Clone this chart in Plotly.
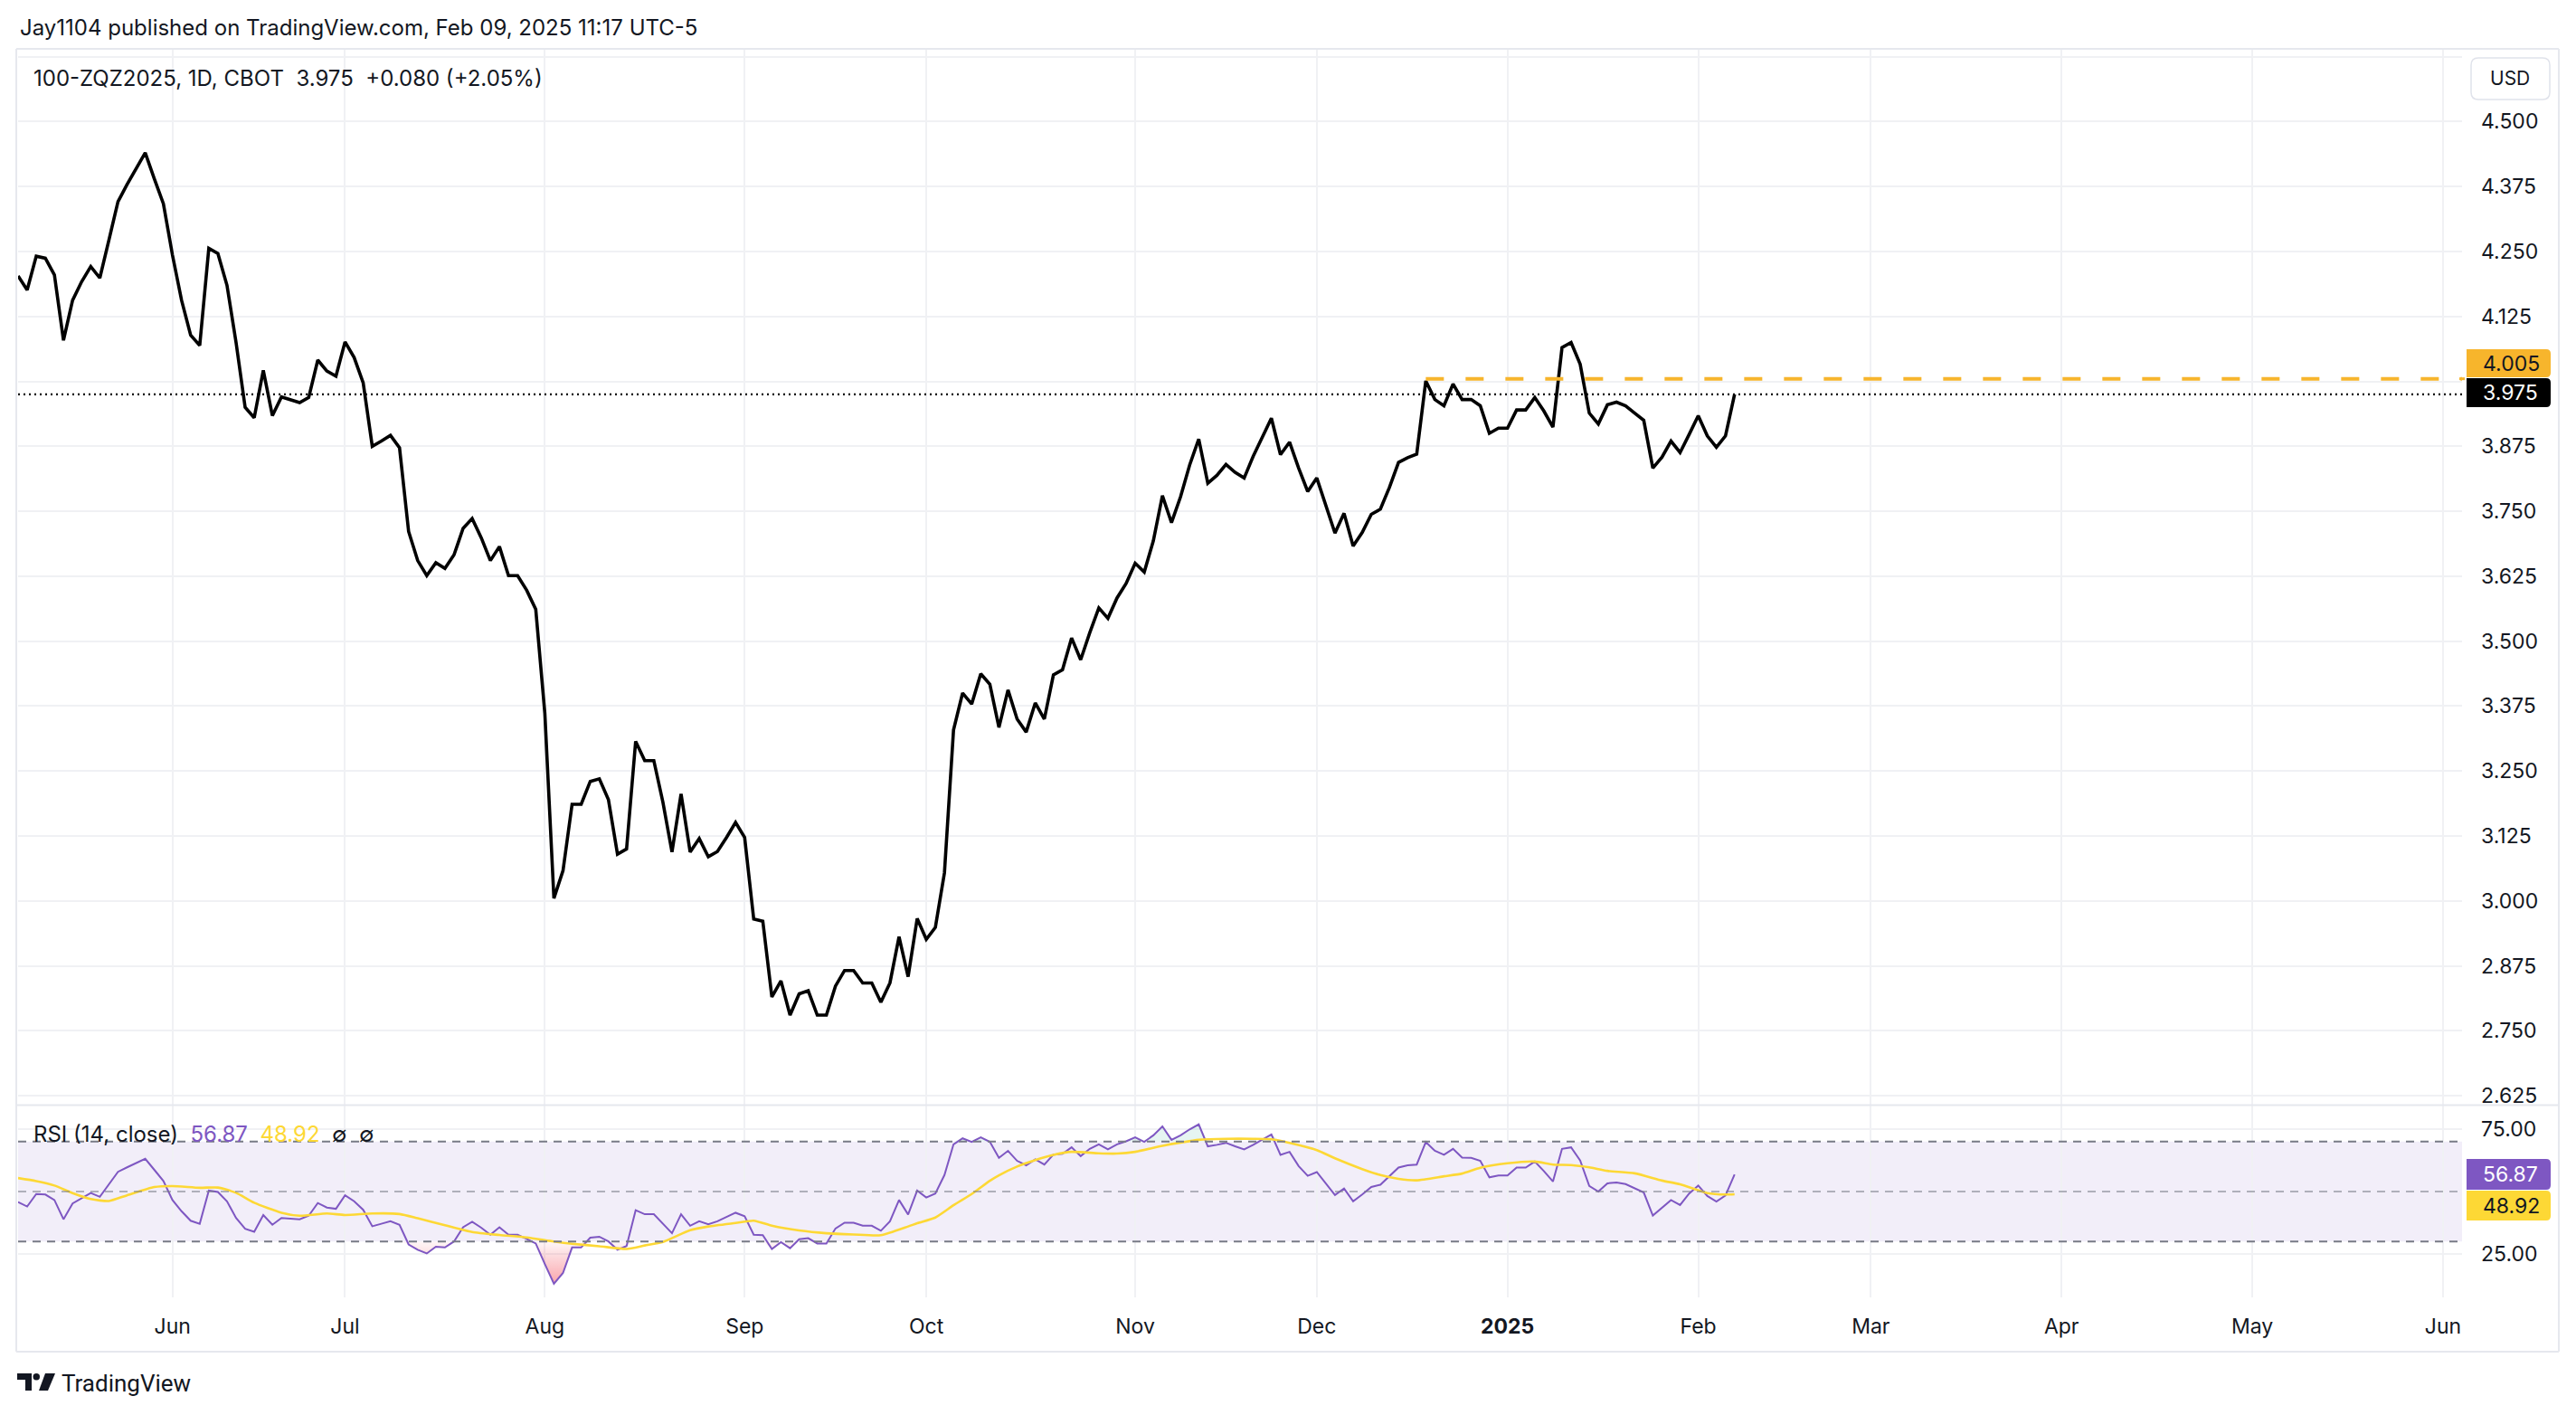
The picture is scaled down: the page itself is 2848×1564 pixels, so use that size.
import plotly.graph_objects as go

W, H = 2848, 1564
L, R, T, B = 20, 2722, 55, 1434          # plot area in page pixels
PW, PH = R - L, B - T


def fx(px):
    return (px - L) / PW


def fy(py):
    return (B - py) / PH


# ---------------- data ----------------
close = [
    4.203, 4.176, 4.241, 4.237, 4.205, 4.079, 4.156, 4.192, 4.221, 4.199,
    4.272, 4.346, 4.379, 4.410, 4.440, 4.390, 4.342, 4.243, 4.156, 4.089,
    4.069, 4.256, 4.246, 4.185, 4.075, 3.950, 3.930, 4.021, 3.934, 3.970,
    3.965, 3.959, 3.969, 4.041, 4.020, 4.010, 4.076, 4.046, 3.997, 3.875,
    3.885, 3.896, 3.872, 3.711, 3.655, 3.626, 3.651, 3.640, 3.666, 3.717,
    3.736, 3.699, 3.655, 3.682, 3.626, 3.626, 3.598, 3.561, 3.361, 3.005,
    3.058, 3.186, 3.186, 3.230, 3.235, 3.195, 3.090, 3.100, 3.307, 3.270,
    3.270, 3.190, 3.094, 3.206, 3.094, 3.120, 3.085, 3.095, 3.122, 3.151,
    3.122, 2.965, 2.961, 2.815, 2.846, 2.780, 2.821, 2.827, 2.780, 2.780,
    2.836, 2.866, 2.866, 2.842, 2.842, 2.805, 2.842, 2.931, 2.854, 2.966,
    2.926, 2.949, 3.054, 3.329, 3.400, 3.379, 3.437, 3.417, 3.334, 3.406,
    3.350, 3.325, 3.381, 3.350, 3.435, 3.445, 3.506, 3.464, 3.516, 3.564,
    3.544, 3.583, 3.611, 3.650, 3.633, 3.693, 3.780, 3.728, 3.778, 3.839,
    3.889, 3.804, 3.819, 3.840, 3.825, 3.814, 3.856, 3.894, 3.929, 3.859,
    3.883, 3.833, 3.788, 3.814, 3.760, 3.708, 3.746, 3.683, 3.709, 3.744,
    3.754, 3.796, 3.844, 3.853, 3.860, 4.001, 3.965, 3.953, 3.995, 3.965,
    3.965, 3.953, 3.900, 3.910, 3.910, 3.945, 3.945, 3.969, 3.943, 3.912,
    4.065, 4.075, 4.033, 3.939, 3.918, 3.955, 3.960, 3.953, 3.939, 3.925,
    3.833, 3.854, 3.885, 3.863, 3.898, 3.934, 3.895, 3.873, 3.895, 3.975,
]

rsi = [
    45.8, 44.0, 49.0, 48.8, 46.6, 38.9, 45.2, 47.3, 49.4, 47.9,
    52.7, 57.9, 59.7, 61.4, 63.1, 58.7, 54.2, 46.6, 42.1, 38.3,
    37.1, 50.4, 49.8, 46.1, 39.4, 35.1, 33.9, 40.6, 36.7, 39.4,
    39.1, 38.9, 40.3, 45.4, 43.6, 43.1, 48.5, 46.1, 42.7, 36.1,
    37.1, 38.1, 36.7, 28.8, 26.7, 25.2, 27.9, 27.6, 30.0, 35.7,
    37.9, 35.5, 32.7, 35.7, 32.7, 32.7, 31.0, 29.2, 21.0, 13.1,
    17.4, 27.6, 27.6, 31.5, 31.9, 30.0, 26.7, 28.2, 42.5, 40.9,
    40.9, 36.9, 33.3, 40.9, 36.3, 38.1, 36.9, 38.1, 39.7, 41.5,
    40.1, 32.7, 32.5, 27.0, 29.7, 27.3, 30.9, 31.3, 29.2, 29.2,
    35.2, 37.5, 37.5, 36.3, 36.3, 34.3, 38.1, 46.6, 40.8, 50.4,
    47.6, 49.2, 56.6, 68.9, 71.3, 69.9, 71.7, 69.9, 63.5, 66.3,
    62.3, 60.5, 62.9, 60.8, 64.8, 65.1, 67.7, 64.2, 67.1, 68.9,
    66.9, 68.9, 70.1, 71.7, 69.9, 72.5, 76.1, 70.7, 72.5, 74.9,
    76.9, 68.1, 68.7, 69.5, 68.1, 66.9, 68.7, 70.7, 72.9, 64.7,
    65.9, 60.2, 56.3, 57.8, 53.4, 48.6, 51.2, 46.1, 48.8, 51.8,
    52.7, 56.3, 59.6, 60.5, 60.8, 69.8, 66.3, 64.7, 67.1, 63.6,
    63.5, 62.3, 55.7, 56.4, 56.4, 59.6, 59.6, 62.0, 58.2, 54.0,
    67.1, 67.7, 62.4, 52.2, 50.0, 53.3, 53.6, 53.0, 51.4, 49.6,
    40.4, 43.4, 46.6, 44.6, 49.2, 52.4, 48.2, 46.0, 48.4, 56.87,
]

ma_idx = [0, 2, 4, 6, 8, 10, 12, 15, 17, 20, 22, 24, 26, 29, 31, 34, 36, 39, 42,
          44, 47, 50, 53, 56, 59, 61, 64, 67, 69, 71, 74, 76, 79, 81, 83, 86, 89,
          92, 95, 98, 99, 101, 103, 105, 107, 108, 110, 112, 114, 116, 119, 121,
          123, 126, 128, 130, 133, 136, 138, 140, 143, 145, 148, 150, 152, 154,
          157, 159, 161, 164, 167, 169, 171, 173, 175, 178, 181, 183, 186, 188, 189]
ma_val = [55.4, 54.2, 52.4, 49.4, 47.0, 46.2, 48.5, 51.8, 52.2, 51.5, 51.6, 49.5,
          45.5, 41.5, 40.3, 41.2, 40.6, 41.2, 41.0, 39.3, 36.5, 33.8, 32.6, 31.6,
          30.0, 29.1, 28.1, 27.0, 28.4, 29.8, 34.5, 36.0, 37.4, 38.3, 36.3, 34.4,
          33.3, 32.8, 32.5, 36.0, 37.3, 39.6, 44.5, 49.0, 54.3, 56.5, 60.0, 62.6,
          64.7, 65.9, 65.3, 65.2, 65.9, 68.3, 69.6, 70.7, 71.1, 71.1, 70.9, 69.5,
          66.6, 63.3, 59.0, 56.6, 55.1, 54.5, 56.1, 57.2, 59.5, 61.3, 62.0, 60.8,
          60.6, 59.7, 58.3, 57.3, 54.4, 52.9, 49.4, 48.8, 48.92]

month_idx = [17, 36, 58, 80, 100, 123, 143, 164, 185, 204, 225, 246, 267]
month_lbl = ["Jun", "Jul", "Aug", "Sep", "Oct", "Nov", "Dec", "<b>2025</b>",
             "Feb", "Mar", "Apr", "May", "Jun"]

price_ticks = [2.625, 2.75, 2.875, 3.0, 3.125, 3.25, 3.375, 3.5, 3.625, 3.75,
               3.875, 4.0, 4.125, 4.25, 4.375, 4.5, 4.625]
price_text = ["2.625", "2.750", "2.875", "3.000", "3.125", "3.250", "3.375",
              "3.500", "3.625", "3.750", "3.875", "", "4.125", "4.250", "4.375",
              "4.500", ""]
rsi_ticks = [25, 75]
rsi_text = ["25.00", "75.00"]

last_price = 3.975
level_price = 4.005
level_start = 155
rsi_last = "56.87"
ma_last = "48.92"

# ---------------- styles ----------------
DARK = "#131722"
GRID = "#F0F1F4"
FRAME = "#E6E8EE"
PURPLE = "#7E57C2"
YELLOW = "#FDD835"
ORANGE = "#F7B52C"
FONT = "Inter"
XR = [0, 269.1]

n = len(close)
xs = list(range(n))

fig = go.Figure()

# price line
fig.add_trace(go.Scatter(x=xs, y=close, mode="lines", xaxis="x", yaxis="y",
                         line=dict(color="#000000", width=3.6), hoverinfo="skip"))

# RSI oversold / overbought fills
low = [min(v, 30) for v in rsi]
high = [max(v, 70) for v in rsi]
fig.add_trace(go.Scatter(x=xs, y=[30] * n, mode="lines", xaxis="x2", yaxis="y2",
                         line=dict(width=0), hoverinfo="skip"))
fig.add_trace(go.Scatter(x=xs, y=low, mode="lines", xaxis="x2", yaxis="y2",
                         line=dict(width=0), fill="tonexty",
                         fillgradient=dict(type="vertical", start=13, stop=30,
                                           colorscale=[[0, "rgba(242,54,69,0.45)"],
                                                       [1, "rgba(242,54,69,0.04)"]]),
                         hoverinfo="skip"))
fig.add_trace(go.Scatter(x=xs, y=[70] * n, mode="lines", xaxis="x2", yaxis="y2",
                         line=dict(width=0), hoverinfo="skip"))
fig.add_trace(go.Scatter(x=xs, y=high, mode="lines", xaxis="x2", yaxis="y2",
                         line=dict(width=0), fill="tonexty",
                         fillcolor="rgba(8,153,129,0.10)", hoverinfo="skip"))

# RSI and its MA
fig.add_trace(go.Scatter(x=xs, y=rsi, mode="lines", xaxis="x2", yaxis="y2",
                         line=dict(color=PURPLE, width=2), hoverinfo="skip"))
fig.add_trace(go.Scatter(x=ma_idx, y=ma_val, mode="lines", xaxis="x2", yaxis="y2",
                         line=dict(color=YELLOW, width=2.6, shape="spline", smoothing=0.6),
                         hoverinfo="skip"))

shapes = []
# RSI band and levels
shapes.append(dict(type="rect", xref="paper", yref="y2", x0=0, x1=1, y0=30, y1=70,
                   fillcolor="rgba(126,87,194,0.10)", line=dict(width=0), layer="below"))
for lv, col in [(70, "#787B86"), (30, "#787B86"), (50, "rgba(120,123,134,0.55)")]:
    shapes.append(dict(type="line", xref="paper", yref="y2", x0=0, x1=1, y0=lv, y1=lv,
                       line=dict(color=col, width=2, dash="9px,7px")))
# last price dotted line and level line
shapes.append(dict(type="line", xref="paper", yref="y", x0=0, x1=1,
                   y0=last_price, y1=last_price,
                   line=dict(color="#000000", width=2.2, dash="2px,4px")))
shapes.append(dict(type="line", xref="x", yref="y", x0=level_start, x1=XR[1],
                   y0=level_price, y1=level_price,
                   line=dict(color=ORANGE, width=4, dash="20px,24px")))

# frame lines
def hline(py, x0=18, x1=2829, color=FRAME, w=2):
    shapes.append(dict(type="line", xref="paper", yref="paper", x0=fx(x0), x1=fx(x1),
                       y0=fy(py), y1=fy(py), line=dict(color=color, width=w)))


def vline(px, y0=54, y1=1494, color=FRAME, w=2):
    shapes.append(dict(type="line", xref="paper", yref="paper", x0=fx(px), x1=fx(px),
                       y0=fy(y0), y1=fy(y1), line=dict(color=color, width=w)))


hline(54)
hline(1221.5)
hline(1494)
vline(18)
vline(2829)


def label_box(x0, x1, y0, y1, r=5, left_round=False):
    rl = r if left_round else 0
    p = (f"M {fx(x0 + rl)} {fy(y0)} L {fx(x1 - r)} {fy(y0)} "
         f"Q {fx(x1)} {fy(y0)} {fx(x1)} {fy(y0 + r)} "
         f"L {fx(x1)} {fy(y1 - r)} Q {fx(x1)} {fy(y1)} {fx(x1 - r)} {fy(y1)} "
         f"L {fx(x0 + rl)} {fy(y1)} ")
    if left_round:
        p += (f"Q {fx(x0)} {fy(y1)} {fx(x0)} {fy(y1 - r)} L {fx(x0)} {fy(y0 + r)} "
              f"Q {fx(x0)} {fy(y0)} {fx(x0 + r)} {fy(y0)} ")
    else:
        p += f"L {fx(x0)} {fy(y0)} "
    p += "Z"
    return p


# axis price labels
shapes.append(dict(type="path", xref="paper", yref="paper",
                   path=label_box(2727, 2820, 386, 417),
                   fillcolor=ORANGE, line=dict(width=0)))
shapes.append(dict(type="path", xref="paper", yref="paper",
                   path=label_box(2727, 2820, 418, 450),
                   fillcolor="#000000", line=dict(width=0)))
shapes.append(dict(type="path", xref="paper", yref="paper",
                   path=label_box(2727, 2820, 1281, 1315),
                   fillcolor=PURPLE, line=dict(width=0)))
shapes.append(dict(type="path", xref="paper", yref="paper",
                   path=label_box(2727, 2820, 1316, 1349),
                   fillcolor=YELLOW, line=dict(width=0)))
# small orange tick where level meets axis
shapes.append(dict(type="line", xref="paper", yref="y", x0=fx(2719), x1=fx(2725),
                   y0=level_price, y1=level_price, line=dict(color=ORANGE, width=3)))
# USD box
shapes.append(dict(type="path", xref="paper", yref="paper",
                   path=label_box(2732, 2819, 64, 110, r=8, left_round=True),
                   fillcolor="white", line=dict(color="#E0E3EB", width=1.5)))

# TradingView logo
shapes.append(dict(type="path", xref="paper", yref="paper",
                   path=(f"M {fx(19)} {fy(1518)} L {fx(35)} {fy(1518)} L {fx(35)} {fy(1537)} "
                         f"L {fx(28)} {fy(1537)} L {fx(28)} {fy(1525)} L {fx(19)} {fy(1525)} Z"),
                   fillcolor=DARK, line=dict(width=0)))
shapes.append(dict(type="circle", xref="paper", yref="paper",
                   x0=fx(36.5), x1=fx(44), y0=fy(1518), y1=fy(1525.5),
                   fillcolor=DARK, line=dict(width=0)))
shapes.append(dict(type="path", xref="paper", yref="paper",
                   path=(f"M {fx(50)} {fy(1518)} L {fx(61)} {fy(1518)} L {fx(53)} {fy(1537)} "
                         f"L {fx(43)} {fy(1537)} Z"),
                   fillcolor=DARK, line=dict(width=0)))

annotations = []


def text(px, py, s, size=22, color=DARK, xanchor="left", font=FONT):
    annotations.append(dict(xref="paper", yref="paper", x=fx(px), y=fy(py), text=s,
                            showarrow=False, xanchor=xanchor, yanchor="middle",
                            font=dict(family=font, size=size, color=color)))


text(20, 31, "Jay1104 published on TradingView.com, Feb 09, 2025 11:17 UTC-5", size=24)
text(35, 86, "100-ZQZ2025, 1D, CBOT&nbsp;&nbsp;3.975&nbsp;&nbsp;+0.080 (+2.05%)", size=24)
text(35, 1253, (f"RSI (14, close)&nbsp;&nbsp;<span style='color:{PURPLE}'>{rsi_last}</span>"
                f"&nbsp;&nbsp;<span style='color:{YELLOW}'>{ma_last}</span>&nbsp;&nbsp;∅&nbsp;&nbsp;∅"),
     size=24)
text(2775, 87, "USD", size=21, xanchor="center")
text(2743, 402, f"{level_price:.3f}", size=23, xanchor="left")
text(2743, 434, f"{last_price:.3f}", size=23, color="#FFFFFF", xanchor="left")
text(2743, 1298, rsi_last, size=23, color="#FFFFFF", xanchor="left")
text(2743, 1333, ma_last, size=23, color=DARK, xanchor="left")
text(66, 1529, "TradingView", size=26, xanchor="left", font="Roboto")

axis_font = dict(family=FONT, size=23, color=DARK)
fig.update_layout(
    width=W, height=H,
    margin=dict(l=L, r=W - R, t=T, b=H - B, pad=0),
    paper_bgcolor="white", plot_bgcolor="white",
    showlegend=False,
    xaxis=dict(domain=[0, 1], anchor="y", range=XR, tickvals=month_idx,
               showticklabels=False, showgrid=True, gridcolor=GRID, gridwidth=1.5,
               zeroline=False, showline=False, ticks=""),
    xaxis2=dict(domain=[0, 1], anchor="y2", range=XR, matches="x", tickvals=month_idx,
                ticktext=month_lbl, showticklabels=True, showgrid=True, gridcolor=GRID,
                gridwidth=1.5, zeroline=False, showline=False, ticks="",
                ticklabelstandoff=16, tickfont=axis_font),
    yaxis=dict(domain=[fy(1221), 1], anchor="x", side="right", range=[2.6077, 4.6383],
               tickvals=price_ticks, ticktext=price_text, showgrid=True, gridcolor=GRID,
               gridwidth=1.5, zeroline=False, showline=False, ticks="",
               ticklabelstandoff=20, tickfont=axis_font),
    yaxis2=dict(domain=[0, fy(1222)], anchor="x2", side="right", range=[7.61, 84.42],
                tickvals=rsi_ticks, ticktext=rsi_text, showgrid=True, gridcolor=GRID,
                gridwidth=1.5, zeroline=False, showline=False, ticks="",
                ticklabelstandoff=20, tickfont=axis_font),
    shapes=shapes,
    annotations=annotations,
)

fig.write_html("out.html")
